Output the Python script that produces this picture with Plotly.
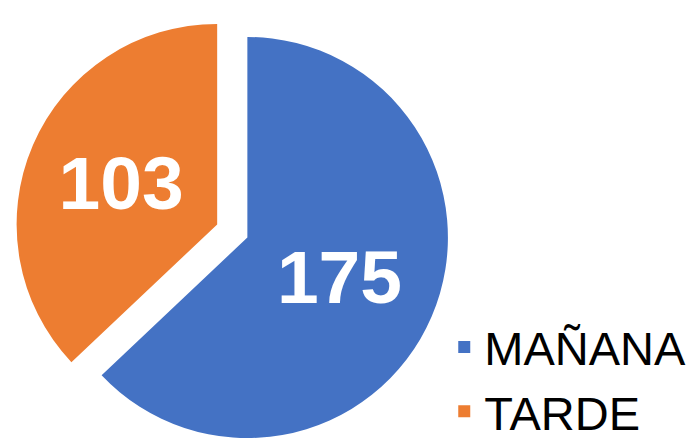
import plotly.graph_objects as go

labels = ["MAÑANA", "TARDE"]
values = [175, 103]
colors = ["#4472C4", "#ED7D31"]
pulls = [0.082, 0.082]

fig = go.Figure(
    go.Pie(
        labels=labels,
        values=values,
        sort=False,
        direction="clockwise",
        rotation=0,
        pull=pulls,
        marker=dict(colors=colors, line=dict(width=0)),
        textinfo="value",
        textposition="inside",
        insidetextorientation="horizontal",
        textfont=dict(family="Liberation Sans, Arial", size=75, color="white", weight="bold"),
        domain=dict(x=[0.0013, 0.6413], y=[0.0157, 0.9866]),
        hoverinfo="label+value",
    )
)

fig.update_layout(
    width=698,
    height=447,
    margin=dict(l=0, r=0, t=0, b=0),
    paper_bgcolor="white",
    plot_bgcolor="white",
    showlegend=True,
    legend=dict(
        x=0.625,
        xanchor="left",
        y=0.0134,
        yanchor="bottom",
        font=dict(family="Liberation Sans, Arial", size=47, color="black"),
        bgcolor="rgba(0,0,0,0)",
        tracegroupgap=0,
    ),
)

fig.write_html("out.html")
